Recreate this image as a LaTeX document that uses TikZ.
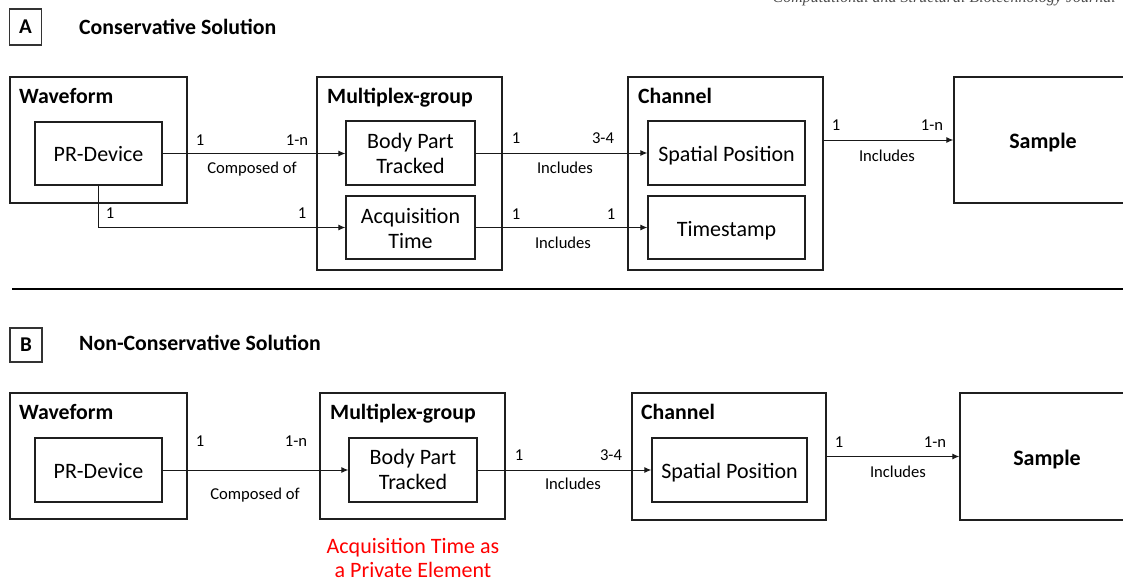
\documentclass[tikz,border=0pt]{standalone}
\usepackage{fontspec}
\setmainfont{Carlito}
\newfontfamily\headfont{Liberation Serif}
\usetikzlibrary{arrows.meta}
\begin{document}
\begin{tikzpicture}[x=1pt,y=-1pt,
  outerbox/.style={draw=black!88, line width=1.4pt, inner sep=0pt},
  innerbox/.style={draw=black!88, line width=1.3pt, inner sep=0pt},
  tagbox/.style={draw=black!80, line width=1.2pt, inner sep=0pt,
    font=\fontsize{21}{25}\selectfont\bfseries},
  heading/.style={font=\fontsize{21.8}{25}\selectfont\bfseries, anchor=base west, inner sep=0pt},
  boxtext/.style={font=\fontsize{22}{25}\selectfont, anchor=base, inner sep=0pt},
  boldtext/.style={font=\fontsize{22}{25}\selectfont\bfseries, anchor=base, inner sep=0pt},
  lbl/.style={font=\fontsize{16.6}{19}\selectfont, anchor=base, inner sep=0pt},
  note/.style={font=\fontsize{22}{25}\selectfont, anchor=base, inner sep=0pt, text=red},
  arr/.style={-{Latex[length=7pt,width=6pt]}, line width=1pt, draw=black!90},
]
\clip (0,0) rectangle (1123,581);

% running head, only its lower edge lies on the page
\node[anchor=base east, inner sep=0pt, text=black!70,
  font=\headfont\itshape\fontsize{16}{18}\selectfont] (runhead) at (1116,2)
  {Computational and Structural Biotechnology Journal};

% ---------------- Part A ----------------
\node[tagbox, minimum width=32pt, minimum height=36pt] (tagA) at (25.5,27) {A};
\node[heading] (ttlA) at (79,34) {Conservative Solution};

\node[outerbox, minimum width=177pt, minimum height=126pt] (wfA) at (98.5,140) {};
\node[heading] (wfAt) at (19,103) {Waveform};
\node[innerbox, minimum width=127pt, minimum height=63pt] (prA) at (98.5,153.5) {};
\node[boxtext] (prAt) at (98.5,161.5) {PR-Device};

\node[outerbox, minimum width=185pt, minimum height=193pt] (mgA) at (409.5,173.5) {};
\node[heading] (mgAt) at (327,103) {Multiplex-group};
\node[innerbox, minimum width=129pt, minimum height=64pt] (bpA) at (410.5,153) {};
\node[boxtext] (bpAt1) at (410.5,148) {Body Part};
\node[boxtext] (bpAt2) at (410.5,173) {Tracked};
\node[innerbox, minimum width=129pt, minimum height=63pt] (acqA) at (410.5,227.5) {};
\node[boxtext] (acqAt1) at (410.5,223) {Acquisition};
\node[boxtext] (acqAt2) at (410.5,248) {Time};

\node[outerbox, minimum width=195pt, minimum height=193pt] (chA) at (725.5,173.5) {};
\node[heading] (chAt) at (638,103) {Channel};
\node[innerbox, minimum width=157pt, minimum height=64pt] (spA) at (726.5,153) {};
\node[boxtext] (spAt) at (726.5,161) {Spatial Position};
\node[innerbox, minimum width=157pt, minimum height=63pt] (tsA) at (726.5,227.5) {};
\node[boxtext] (tsAt) at (726.5,236) {Timestamp};

\node[outerbox, minimum width=178pt, minimum height=126pt] (smA) at (1043,140) {};
\node[boldtext] (smAt) at (1043,148) {Sample};

% connectors A
\draw[arr] (prA.east) -- (prA.east -| bpA.west);
\draw[arr] (prA.south) |- (acqA.west);
\draw[arr] (bpA.east) -- (spA.west);
\draw[arr] (acqA.east) -- (tsA.west);
\draw[arr] (chA.east |- smA.west) -- (smA.west);

% cardinalities and relation names A
\node[lbl] (a1) at (200,145) {1};
\node[lbl] (a2) at (297,145) {1-n};
\node[lbl] (a3) at (252,173) {Composed of};
\node[lbl] (a4) at (110,218) {1};
\node[lbl] (a5) at (302,218) {1};
\node[lbl] (a6) at (516,143) {1};
\node[lbl] (a7) at (603,143) {3-4};
\node[lbl] (a8) at (565,173) {Includes};
\node[lbl] (a9) at (516,219) {1};
\node[lbl] (a10) at (611,219) {1};
\node[lbl] (a11) at (563,248) {Includes};
\node[lbl] (a12) at (836,130) {1};
\node[lbl] (a13) at (932,130) {1-n};
\node[lbl] (a14) at (887,161) {Includes};

% separator
\draw[line width=2.4pt] (12,289) -- (1123,289);

% ---------------- Part B ----------------
\node[tagbox, minimum width=32pt, minimum height=34pt] (tagB) at (26,345) {B};
\node[heading] (ttlB) at (79,350) {Non-Conservative Solution};

\node[outerbox, minimum width=177pt, minimum height=126pt] (wfB) at (98.5,456) {};
\node[heading] (wfBt) at (19,419) {Waveform};
\node[innerbox, minimum width=127pt, minimum height=64pt] (prB) at (98.5,470) {};
\node[boxtext] (prBt) at (98.5,478) {PR-Device};

\node[outerbox, minimum width=185pt, minimum height=126pt] (mgB) at (412.5,456) {};
\node[heading] (mgBt) at (330,419) {Multiplex-group};
\node[innerbox, minimum width=128pt, minimum height=64pt] (bpB) at (413,470) {};
\node[boxtext] (bpBt1) at (413,464) {Body Part};
\node[boxtext] (bpBt2) at (413,489) {Tracked};

\node[outerbox, minimum width=194pt, minimum height=127pt] (chB) at (729,456.5) {};
\node[heading] (chBt) at (641,419) {Channel};
\node[innerbox, minimum width=155pt, minimum height=64pt] (spB) at (729.5,470) {};
\node[boxtext] (spBt) at (729.5,478) {Spatial Position};

\node[outerbox, minimum width=174pt, minimum height=127pt] (smB) at (1047,456.5) {};
\node[boldtext] (smBt) at (1047,465) {Sample};

% connectors B
\draw[arr] (prB.east) -- (bpB.west);
\draw[arr] (bpB.east) -- (spB.west);
\draw[arr] (chB.east |- smB.west) -- (smB.west);

% cardinalities and relation names B
\node[lbl] (b1) at (200,446) {1};
\node[lbl] (b2) at (296,446) {1-n};
\node[lbl] (b3) at (255,499) {Composed of};
\node[lbl] (b4) at (519,460) {1};
\node[lbl] (b5) at (611,460) {3-4};
\node[lbl] (b6) at (573,489) {Includes};
\node[lbl] (b7) at (839,447) {1};
\node[lbl] (b8) at (935,447) {1-n};
\node[lbl] (b9) at (898,477) {Includes};

\node[note] (privA) at (413,553) {Acquisition Time as};
\node[note] (privB) at (413,577) {a Private Element};
\end{tikzpicture}
\end{document}
